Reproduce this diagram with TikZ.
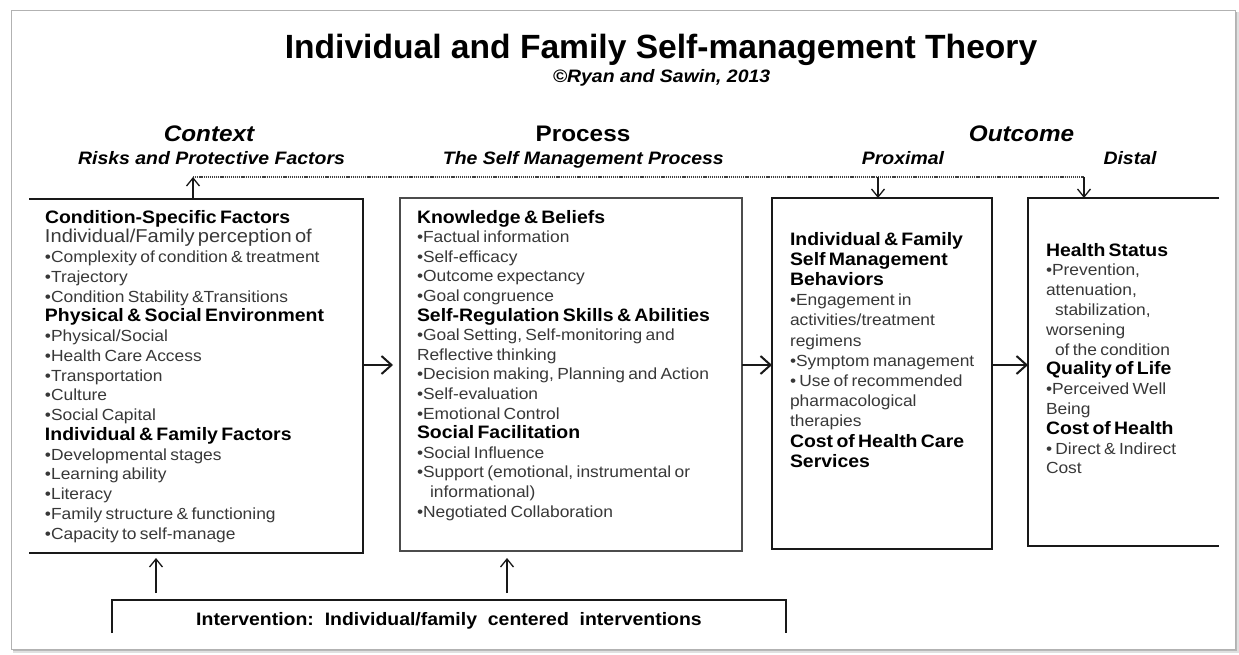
\documentclass[tikz,border=0pt]{standalone}
\usepackage{fontspec}
\setmainfont{Liberation Sans}
\newfontfamily\wf{Liberation Sans}[FakeStretch=1.08]
\usetikzlibrary{arrows.meta}
\definecolor{txt}{gray}{0.22}
\newcommand\myhd{\leavevmode\wf\fontsize{18}{19.75}\selectfont\bfseries\color{black}}
\newcommand\mybody[1]{\wf\fontsize{16.1}{#1}\selectfont}
\tikzset{
  boxline/.style={line width=1.8pt, draw=black!90},
  region/.style={draw=none, inner sep=0pt, outer sep=0pt},
  btext/.style={anchor=base west, inner sep=0pt, outer sep=0pt, align=left, text=txt},
  harrow/.style={line width=2pt, black!90, -{Straight Barb[length=10pt,width=18pt]}},
  varrow/.style={line width=1.3pt, black!90, -{Straight Barb[length=8pt,width=13pt]}},
  dots/.style={line width=1.2pt, dash pattern=on 1.2pt off 0.9pt, black!75},
  hdr/.style={anchor=base, inner sep=0pt, font=\wf\fontsize{22.5}{27}\selectfont\bfseries\itshape},
  sub/.style={anchor=base, inner sep=0pt, font=\wf\fontsize{18}{22}\selectfont\bfseries\itshape},
}
\begin{document}
\begin{tikzpicture}[x=1pt,y=-1pt]
\useasboundingbox (0,0) rectangle (1239,655);
\fill[white] (0,0) rectangle (1239,655);
% frame with shadow
\fill[black!12] (13,12) rectangle (1239,653);
\fill[black!28] (13,12) rectangle (1237,651);
\filldraw[fill=white, draw=black!30, line width=0.6pt] (11,10) rectangle (1235,649);

% titles
\node[anchor=base, inner sep=0pt, font=\fontsize{33.6}{40}\selectfont\bfseries] (title) at (661,59) {Individual and Family Self-management Theory};
\node[anchor=base, inner sep=0pt, font=\wf\fontsize{18}{22}\selectfont\bfseries\itshape] (copy) at (661.5,83) {©Ryan and Sawin, 2013};

\node[hdr] (hctx) at (209,142) {Context};
\node[sub] (sctx) at (211.5,165) {Risks and Protective Factors};
\node[hdr, font=\wf\fontsize{22.5}{27}\selectfont\bfseries] (hproc) at (583,142) {Process};
\node[sub, anchor=base east] (sproc) at (724,165) {The Self Management Process};
\node[hdr] (hout) at (1021.5,142) {Outcome};
\node[sub] (sprox) at (903,165) {Proximal};
\node[sub] (sdist) at (1130,165) {Distal};

% box regions
\node[region, minimum width=334pt, minimum height=354pt] (ctx) at (196,376) {};
\node[region, minimum width=342pt, minimum height=353pt] (proc) at (571,374.5) {};
\node[region, minimum width=220pt, minimum height=351pt] (prox) at (882,373.5) {};
\node[region, minimum width=191pt, minimum height=348pt] (dist) at (1123.5,372) {};
\node[region, minimum width=674pt, minimum height=33pt] (interv) at (449,616.5) {};

\draw[boxline] (ctx.north west) -- (ctx.north east) -- (ctx.south east) -- (ctx.south west);
\draw[boxline, draw=black!70, line width=1.3pt] (proc.north west) rectangle (proc.south east);
\draw[boxline] (prox.north west) rectangle (prox.south east);
\draw[boxline] (dist.north east) -- (dist.north west) -- (dist.south west) -- (dist.south east);
\draw[boxline, line width=1.5pt] (interv.south west) -- (interv.north west) -- (interv.north east) -- (interv.south east);

% box texts
\node[btext, text width=330pt] (ctxt) at (45,223) {\mybody{19.75}%
{\myhd Condition-Specific Factors}\\
{\fontsize{18.6}{19.75}\selectfont Individual/Family perception of}\\
•Complexity of condition \& treatment\\
•Trajectory\\
•Condition Stability \&Transitions\\
{\myhd Physical \& Social Environment}\\
•Physical/Social\\
•Health Care Access\\
•Transportation\\
•Culture\\
•Social Capital\\
{\myhd Individual \& Family Factors}\\
•Developmental stages\\
•Learning ability\\
•Literacy\\
•Family structure \& functioning\\
•Capacity to self-manage\par};

\node[btext, text width=330pt] (proct) at (417,223) {\mybody{19.6}%
{\myhd Knowledge \& Beliefs}\\
•Factual information\\
•Self-efficacy\\
•Outcome expectancy\\
•Goal congruence\\
{\myhd Self-Regulation Skills \& Abilities}\\
•Goal Setting, Self-monitoring and\\
Reflective thinking\\
•Decision making, Planning and Action\\
•Self-evaluation\\
•Emotional Control\\
{\myhd Social Facilitation}\\
•Social Influence\\
•Support (emotional, instrumental or\\
\hspace*{13pt}informational)\\
•Negotiated Collaboration\par};

\node[btext, text width=215pt] (proxt) at (790,245) {\mybody{20.2}%
{\myhd Individual \& Family}\\
{\myhd Self Management}\\
{\myhd Behaviors}\\
•Engagement in\\
activities/treatment\\
regimens\\
•Symptom management\\
• Use of recommended\\
pharmacological\\
therapies\\
{\myhd Cost of Health Care}\\
{\myhd Services}\par};

\node[btext, text width=185pt] (distt) at (1046,256) {\mybody{19.8}%
{\myhd Health Status}\\
•Prevention,\\
attenuation,\\
\hspace*{9pt}stabilization,\\
worsening\\
\hspace*{9pt}of the condition\\
{\myhd Quality of Life}\\
•Perceived Well\\
Being\\
{\myhd Cost of Health}\\
• Direct \& Indirect\\
Cost\par};

\node[anchor=base, inner sep=0pt, font=\wf\fontsize{18}{22}\selectfont\bfseries] (intt) at (449,625) {Intervention:\ \ Individual/family\ \ centered\ \ interventions};

% connectors
\coordinate (hy) at (0,365);
\coordinate (dl) at (193,177);
\coordinate (dp) at (878,177);
\coordinate (dd) at (1084,177);
\coordinate (i1) at (156,0);
\coordinate (i2) at (507,0);

\draw[dots] (dl) -- (dd);
\draw[varrow] (ctx.north -| dl) -- (dl);
\draw[varrow] (dp) -- (prox.north -| dp);
\draw[varrow] (dd) -- (dist.north -| dd);

\draw[harrow, shorten >=7pt] (ctx.east |- hy) -- (proc.west |- hy);
\draw[harrow] (proc.east |- hy) -- (prox.west |- hy);
\draw[harrow] (prox.east |- hy) -- (dist.west |- hy);

\draw[varrow, shorten <=7pt, shorten >=5pt] (interv.north -| i1) -- (ctx.south -| i1);
\draw[varrow, shorten <=7pt, shorten >=7pt] (interv.north -| i2) -- (proc.south -| i2);
\end{tikzpicture}
\end{document}
